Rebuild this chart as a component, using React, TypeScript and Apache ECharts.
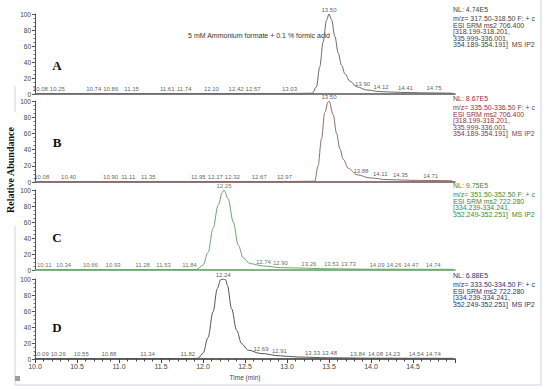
import React, { useEffect, useRef } from "react";
import * as echarts from "echarts";

// ---- data ----
const panelNames = ["A", "B", "C", "D"];

const timesA = [10.0, 13.0, 13.3, 13.35, 13.39, 13.43, 13.47, 13.5, 13.53, 13.57, 13.61, 13.65, 13.69, 13.75, 13.83, 13.95, 14.11, 14.35, 14.6, 14.97];
const intensA = [0.5, 0.6, 1, 9, 34, 65, 92, 100, 93, 72, 51, 36, 25, 16, 9, 5, 3, 2, 1.5, 1];

const timesB = [10.0, 13.0, 13.33, 13.37, 13.41, 13.45, 13.49, 13.5, 13.55, 13.59, 13.63, 13.67, 13.73, 13.83, 13.99, 14.19, 14.5, 14.97];
const intensB = [0.5, 0.6, 1, 20, 53, 86, 99, 100, 83, 60, 41, 28, 17, 9, 5, 3, 2, 1.5];

const timesC = [10.0, 11.8, 11.925, 12.0, 12.06, 12.12, 12.18, 12.23, 12.25, 12.3, 12.36, 12.42, 12.48, 12.56, 12.72, 12.92, 13.12, 13.5, 14.0, 14.97];
const intensC = [0.5, 0.5, 0.8, 6, 22, 52, 81, 97, 100, 89, 60, 31, 15, 8, 5, 3, 2.5, 1.5, 1, 0.8];

const timesD = [10.0, 11.8, 11.94, 12.0, 12.06, 12.12, 12.17, 12.21, 12.24, 12.27, 12.29, 12.34, 12.4, 12.46, 12.54, 12.68, 12.92, 13.12, 13.5, 14.0, 14.97];
const intensD = [0.5, 0.5, 0.8, 7, 27, 59, 88, 99, 100, 99, 92, 63, 36, 19, 11, 7, 4, 2.5, 1.5, 1, 0.8];

const peakLabelsA = [10.08, 10.25, 10.74, 10.86, 11.15, 11.61, 11.74, 12.1, 12.42, 12.57, 13.03, 13.5, 13.9, 14.12, 14.41, 14.75];
const peakLabelsB = [10.08, 10.4, 10.9, 11.11, 11.35, 11.95, 12.17, 12.32, 12.67, 12.97, 13.5, 13.88, 14.11, 14.35, 14.71];
const peakLabelsC = [10.11, 10.34, 10.66, 10.93, 11.28, 11.53, 11.84, 12.25, 12.74, 12.9, 13.26, 13.53, 13.73, 14.09, 14.26, 14.47, 14.74];
const peakLabelsD = [10.09, 10.26, 10.55, 10.88, 11.34, 11.82, 12.24, 12.69, 12.91, 13.33, 13.48, 13.84, 14.08, 14.23, 14.54, 14.74];

const annotA = ["NL: 4.74E5", "m/z= 317.50-318.50 F: + c", "ESI SRM ms2 706.400", "[318.199-318.201,", "335.999-336.001,", "354.189-354.191]  MS IP2"];
const annotB = ["NL: 8.67E5", "m/z= 335.50-336.50 F: + c", "ESI SRM ms2 706.400", "[318.199-318.201,", "335.999-336.001,", "354.189-354.191]  MS IP2"];
const annotC = ["NL: 9.75E5", "m/z= 351.50-352.50 F: + c", "ESI SRM ms2 722.280", "[334.239-334.241,", "352.249-352.251]  MS IP2"];
const annotD = ["NL: 6.88E5", "m/z= 333.50-334.50 F: + c", "ESI SRM ms2 722.280", "[334.239-334.241,", "352.249-352.251]  MS IP2"];

const bufferText = "5 mM Ammonium formate + 0.1 % formic acid";
const yAxisTitle = "Relative Abundance";
const xAxisTitle = "Time (min)";

// ---- styling ----
const panels = [
  { times: timesA, vals: intensA, labels: peakLabelsA, annot: annotA, line: "#6a6a6a", axis: "#555555", text: "#444444", labelColor: "#333333", top: 14, height: 80, annotY: 9, letterY: 65 },
  { times: timesB, vals: intensB, labels: peakLabelsB, annot: annotB, line: "#8a6a6a", axis: "#6b4c4c", text: "#8a3444", labelColor: "#333333", top: 101, height: 81, annotY: 98, letterY: 142 },
  { times: timesC, vals: intensC, labels: peakLabelsC, annot: annotC, line: "#6aa86a", axis: "#5c9c5c", text: "#3a8a3a", labelColor: "#3a4a3a", top: 190, height: 80, annotY: 185, letterY: 237 },
  { times: timesD, vals: intensD, labels: peakLabelsD, annot: annotD, line: "#555555", axis: "#333333", text: "#2a3570", labelColor: "#333333", top: 279, height: 80, annotY: 275, letterY: 327 },
];

const GRID_LEFT = 35;
const GRID_WIDTH = 420;
const LABEL_FONT = 6;
const LABEL_MIN_GAP = 17;

function interp(times: number[], vals: number[], t: number) {
  for (let i = 0; i < times.length - 1; i++) {
    if (t >= times[i] && t <= times[i + 1]) {
      const f = (t - times[i]) / (times[i + 1] - times[i]);
      return vals[i] + f * (vals[i + 1] - vals[i]);
    }
  }
  return vals[vals.length - 1];
}

export default function App() {
  const ref = useRef<HTMLDivElement>(null);

  useEffect(() => {
    if (!ref.current) return;
    const chart = echarts.init(ref.current, undefined, { renderer: "svg" });

    const grid: any[] = [];
    const xAxis: any[] = [];
    const yAxis: any[] = [];
    const series: any[] = [];
    const graphic: any[] = [];

    panels.forEach((p, i) => {
      const isLast = i === panels.length - 1;
      grid.push({ left: GRID_LEFT, width: GRID_WIDTH, top: p.top, height: p.height });
      xAxis.push({
        type: "value",
        gridIndex: i,
        min: 10,
        max: 15,
        interval: 0.5,
        axisLine: { show: true, onZero: false, lineStyle: { color: p.axis, width: 1.5 } },
        axisTick: { show: isLast, length: 4, lineStyle: { color: "#444" } },
        minorTick: { show: isLast, splitNumber: 5, length: 2.5, lineStyle: { color: "#444" } },
        splitLine: { show: false },
        axisLabel: {
          show: isLast,
          showMaxLabel: false,
          fontSize: 7,
          color: "#444",
          fontFamily: "Liberation Sans",
          margin: 4,
          formatter: (v: number) => v.toFixed(1),
        },
        name: isLast ? xAxisTitle : "",
        nameLocation: "middle",
        nameGap: 15,
        nameTextStyle: { fontSize: 6.5, color: "#444", fontFamily: "Liberation Sans" },
      });
      yAxis.push({
        type: "value",
        gridIndex: i,
        min: 0,
        max: 100,
        interval: 20,
        axisLine: { show: true, lineStyle: { color: "#555", width: 1 } },
        axisTick: { show: true, length: 3, lineStyle: { color: "#555" } },
        minorTick: { show: true, splitNumber: 4, length: 1.5, lineStyle: { color: "#777" } },
        splitLine: { show: false },
        axisLabel: { fontSize: 6.5, color: "#444", fontFamily: "Liberation Sans", margin: 4 },
      });
      series.push({
        type: "line",
        xAxisIndex: i,
        yAxisIndex: i,
        data: p.times.map((t, k) => [t, p.vals[k]]),
        showSymbol: false,
        smooth: 0.35,
        smoothMonotone: "x",
        lineStyle: { color: p.line, width: 1 },
        silent: true,
        z: 3,
      });
      series.push({
        type: "scatter",
        xAxisIndex: i,
        yAxisIndex: i,
        data: p.labels.map((t) => [t, interp(p.times, p.vals, t)]),
        symbolSize: 1,
        itemStyle: { color: "rgba(0,0,0,0)" },
        silent: true,
        z: 4,
        label: {
          show: true,
          position: "top",
          distance: 1,
          fontSize: LABEL_FONT,
          color: p.labelColor,
          fontFamily: "Liberation Sans",
          formatter: (q: any) => q.value[0].toFixed(2),
        },
      });
      graphic.push({
        type: "text",
        x: 57,
        y: p.letterY,
        style: { text: panelNames[i], font: "bold 13px 'Liberation Serif'", fill: "#111", align: "center", verticalAlign: "middle" },
      });
      p.annot.forEach((line, k) => {
        graphic.push({
          type: "text",
          x: 453,
          y: k === 0 ? p.annotY : p.annotY + 9.5 + (k - 1) * 6.5,
          style: { text: line, font: "7px 'Liberation Sans'", fill: p.text, align: "left", verticalAlign: "middle" },
        });
      });
    });

    graphic.push(
      { type: "line", shape: { x1: 541, y1: 0, x2: 541, y2: 385 }, style: { stroke: "#cdd5e0", lineWidth: 1 } },
      { type: "line", shape: { x1: 15, y1: 385, x2: 541, y2: 385 }, style: { stroke: "#cdd5e0", lineWidth: 1 } },
      { type: "line", shape: { x1: 15, y1: 86, x2: 15, y2: 112 }, style: { stroke: "#cdd5e0", lineWidth: 1 } },
      { type: "line", shape: { x1: 15, y1: 226, x2: 15, y2: 385 }, style: { stroke: "#cdd5e0", lineWidth: 1 } },
      { type: "rect", shape: { x: 15, y: 376, width: 5, height: 5 }, style: { fill: "#9aa0a8" } },
      {
        type: "text",
        x: 10,
        y: 170,
        rotation: Math.PI / 2,
        style: { text: yAxisTitle, font: "bold 10px 'Liberation Serif'", fill: "#111", align: "center", verticalAlign: "middle" },
      },
      {
        type: "text",
        x: 259,
        y: 35,
        style: { text: bufferText, font: "7px 'Liberation Sans'", fill: "#333", align: "center", verticalAlign: "middle" },
      }
    );

    chart.setOption({ animation: false, backgroundColor: "#ffffff", grid, xAxis, yAxis, series, graphic });

    // spread crowded peak labels apart horizontally (like the instrument software does)
    const newSeries: any[] = [];
    panels.forEach((p, i) => {
      const pts = p.labels.map((t) => {
        const v = interp(p.times, p.vals, t);
        const px = chart.convertToPixel({ gridIndex: i } as any, [t, v]) as number[];
        return { t, v, x0: px[0], y0: px[1], x: px[0] };
      });
      const order = pts.map((_, k) => k).sort((a, b) => pts[a].x0 - pts[b].x0);
      for (let iter = 0; iter < 200; iter++) {
        let moved = false;
        for (let k = 0; k < order.length - 1; k++) {
          const a = pts[order[k]];
          const b = pts[order[k + 1]];
          if (Math.abs(a.y0 - b.y0) > 7) continue;
          const gap = b.x - a.x;
          if (gap < LABEL_MIN_GAP - 0.01) {
            const d = (LABEL_MIN_GAP - gap) / 2;
            a.x -= d;
            b.x += d;
            moved = true;
          }
        }
        if (!moved) break;
      }
      newSeries.push({});
      newSeries.push({
        data: pts.map((q) => ({ value: [q.t, q.v], label: { offset: [q.x - q.x0, 0] } })),
      });
    });
    chart.setOption({ series: newSeries });

    return () => chart.dispose();
  }, []);

  return <div ref={ref} style={{ position: "fixed", left: 0, top: 0, width: 550, height: 389 }} />;
}
